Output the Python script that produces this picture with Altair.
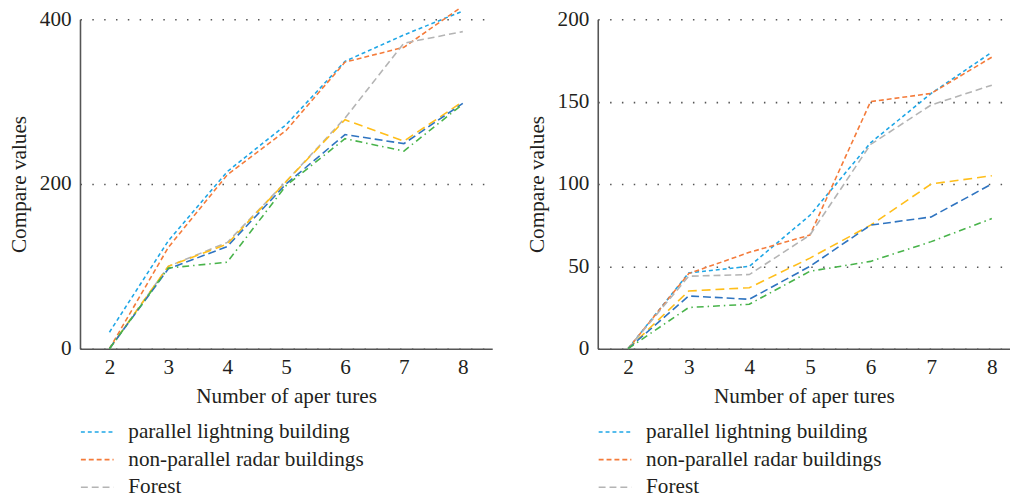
import altair as alt
import pandas as pd

x_values = [2, 3, 4, 5, 6, 7, 8]

series_names = [
    "parallel lightning building",
    "non-parallel radar buildings",
    "Forest",
    "parallel radar building",
    "non-parallel lightning buildings",
    "Grassland",
]

# left panel values
left_values = {
    "parallel lightning building": [20, 131, 215, 272, 349, 381, 410],
    "non-parallel radar buildings": [0, 123, 211, 265, 348, 366, 416],
    "Forest": [0, 100, 129, 203, 280, 371, 385],
    "parallel radar building": [0, 100, 127, 203, 278, 252, 300],
    "non-parallel lightning buildings": [0, 97, 124, 200, 260, 249, 298],
    "Grassland": [0, 98, 105, 198, 255, 240, 297],
}

# right panel values
right_values = {
    "parallel lightning building": [0, 46, 50, 81, 125, 155, 180],
    "non-parallel radar buildings": [0, 45.6, 58.5, 69, 150, 155, 177],
    "Forest": [0, 44, 45, 69, 124, 148, 160],
    "parallel radar building": [0, 35, 37, 55, 75, 100, 105],
    "non-parallel lightning buildings": [0, 32, 30, 50, 75, 80, 100],
    "Grassland": [0, 25, 27, 47, 53, 65, 79],
}

colors = ["#1ea6e6", "#f47b3a", "#b4b4b4", "#ffbe1a", "#2f74c0", "#48b34a"]
dashes = [[4, 3], [5, 3], [7, 4], [9, 5], [8, 4], [7, 4, 1.5, 4]]

left_ticks = [0, 200, 400]
right_ticks = [0, 50, 100, 150, 200]

FONT = "Liberation Serif"
TEXT = "#231f20"
FS = 21.5


def make_df(values):
    rows = []
    for name in series_names:
        for xv, yv in zip(x_values, values[name]):
            rows.append({"series": name, "x": xv, "y": yv})
    return pd.DataFrame(rows)


def panel(values, ydomain, yticks, xdomain):
    df = make_df(values)
    legend = alt.Legend(
        title=None,
        values=series_names[:3],
        orient="none",
        legendX=0,
        legendY=401,
        direction="vertical",
        symbolType="stroke",
        symbolSize=1100,
        symbolStrokeWidth=1.6,
        labelFont=FONT,
        labelFontSize=FS,
        labelColor=TEXT,
        labelOffset=14,
        rowPadding=-6,
        labelLimit=400,
    )
    return alt.Chart(df).mark_line(strokeWidth=1.6).encode(
        x=alt.X(
            "x:Q",
            scale=alt.Scale(domain=xdomain, nice=False, zero=False),
            axis=alt.Axis(
                title="Number of aper tures",
                values=x_values,
                grid=False,
                ticks=False,
                labelPadding=8,
                titlePadding=8,
            ),
        ),
        y=alt.Y(
            "y:Q",
            scale=alt.Scale(domain=ydomain, nice=False),
            axis=alt.Axis(
                title="Compare values",
                values=yticks,
                grid=True,
                ticks=False,
                labelPadding=9,
                titlePadding=9,
            ),
        ),
        color=alt.Color(
            "series:N",
            scale=alt.Scale(domain=series_names, range=colors),
            legend=legend,
        ),
        strokeDash=alt.StrokeDash(
            "series:N",
            scale=alt.Scale(domain=series_names, range=dashes),
            legend=legend,
        ),
    ).properties(width=418, height=334)


left = panel(left_values, [0, 400], left_ticks, [1.5, 8.5])
right = panel(right_values, [0, 200], right_ticks, [1.5, 8.3])

chart = alt.hconcat(left, right, spacing=34).resolve_scale(
    color="independent", strokeDash="independent"
).properties(
    padding={"left": 0, "top": -9, "right": 0, "bottom": 0}
).configure_view(stroke=None).configure_axis(
    labelFont=FONT,
    labelFontSize=FS,
    labelColor=TEXT,
    titleFont=FONT,
    titleFontSize=FS,
    titleFontWeight="normal",
    titleColor=TEXT,
    domainColor="#555555",
    domainWidth=1.6,
    gridColor="#555555",
    gridWidth=1.6,
    gridDash=[1.5, 10.5],
)

chart.save("out.html", embed_options={"renderer": "svg", "actions": False})
